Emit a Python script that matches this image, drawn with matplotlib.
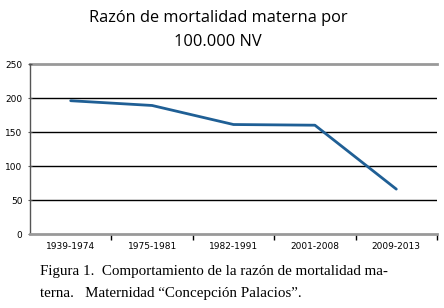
import matplotlib
matplotlib.use("Agg")
import matplotlib.pyplot as plt
import numpy as np

categories = ["1939-1974", "1975-1981", "1982-1991", "2001-2008", "2009-2013"]
values = [196, 189, 161, 160, 66]
yticks = [0, 50, 100, 150, 200, 250]
title = "Razón de mortalidad materna por\n100.000 NV"
caption1 = "Figura 1.  Comportamiento de la razón de mortalidad ma-"
caption2 = "terna.   Maternidad \u201cConcepción Palacios\u201d."

fig = plt.figure(figsize=(4.44, 3.08), dpi=100)
W, H = 444, 308
ax = fig.add_axes([30 / W, (H - 234) / H, (437 - 30) / W, (234 - 64) / H])

x = np.arange(len(categories))
ax.plot(x, values, color="#1f5f95", lw=2.0, solid_capstyle="round")
ax.set_xlim(-0.5, len(categories) - 0.5)
ax.set_ylim(0, 250)

for v in yticks[1:-1]:
    ax.axhline(v, color="black", lw=1.0, zorder=0)
ax.axhline(250, color="#999999", lw=2.0, zorder=0, clip_on=False)

for s in ["top", "right"]:
    ax.spines[s].set_visible(False)
ax.spines["left"].set_color("#555555")
ax.spines["left"].set_linewidth(1.0)
ax.spines["bottom"].set_color("#999999")
ax.spines["bottom"].set_linewidth(2.0)

ax.set_yticks(yticks)
ax.set_yticklabels([str(v) for v in yticks], fontsize=6.5, family="DejaVu Sans")
ax.tick_params(axis="y", length=3, width=0.8, color="#555555", direction="inout", pad=4)

ax.set_xticks(x + 0.5, minor=False)
ax.set_xticklabels([])
ax.tick_params(axis="x", length=4, width=1.0, color="black", direction="out")
ax.set_xticks(x, minor=True)
ax.set_xticklabels(categories, minor=True, fontsize=6.5, family="DejaVu Sans")
ax.tick_params(axis="x", which="minor", length=0, pad=6)

fig.text(218 / W, 1 - 30 / H, title, ha="center", va="center", fontsize=11.8,
         family="Open Sans", linespacing=1.6)
fig.text(40 / W, 1 - 272 / H, caption1, ha="left", va="center", fontsize=10.8,
         family="Liberation Serif")
fig.text(40 / W, 1 - 294 / H, caption2, ha="left", va="center", fontsize=10.8,
         family="Liberation Serif")

fig.savefig("out.png", dpi=100)
